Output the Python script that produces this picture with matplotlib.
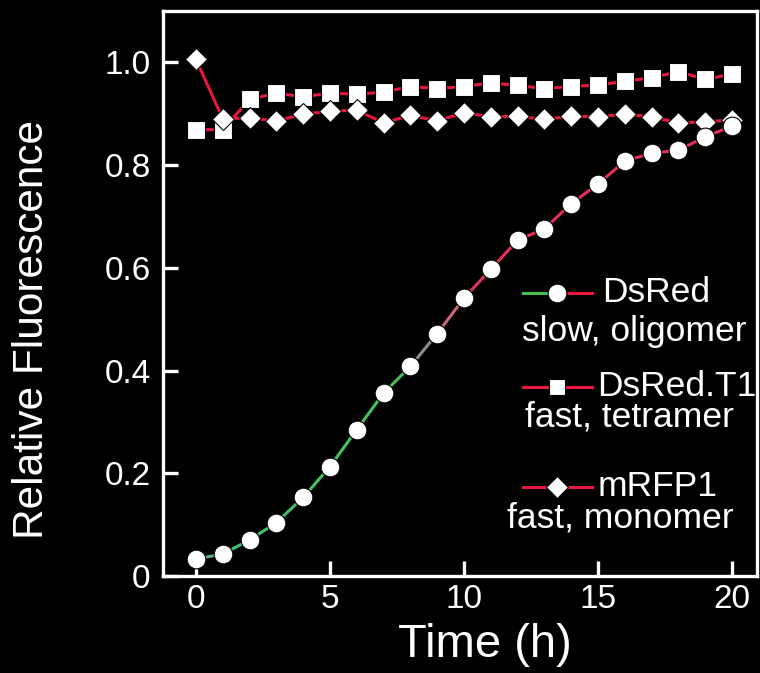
import numpy as np
import matplotlib
matplotlib.use("Agg")
import matplotlib.pyplot as plt
from matplotlib.collections import LineCollection
from matplotlib.colors import LinearSegmentedColormap
from matplotlib.lines import Line2D

# ---- data -------------------------------------------------------------
hours = list(range(21))
dsred = [0.033, 0.043, 0.070, 0.104, 0.153, 0.213, 0.285, 0.356, 0.408, 0.472,
         0.541, 0.597, 0.654, 0.676, 0.725, 0.763, 0.808, 0.823, 0.829, 0.855, 0.876]
dsred_t1 = [0.869, 0.869, 0.928, 0.940, 0.933, 0.940, 0.938, 0.942, 0.953, 0.949,
            0.953, 0.960, 0.955, 0.949, 0.953, 0.956, 0.963, 0.970, 0.982, 0.967, 0.977]
mrfp1 = [1.006, 0.890, 0.892, 0.886, 0.899, 0.905, 0.907, 0.882, 0.897, 0.886,
         0.902, 0.894, 0.895, 0.889, 0.895, 0.894, 0.899, 0.894, 0.882, 0.884, 0.888]

legend_names = ["DsRed", "DsRed.T1", "mRFP1"]
legend_notes = ["slow, oligomer", "fast, tetramer", "fast, monomer"]
x_ticks = [0, 5, 10, 15, 20]
y_ticks = [0.0, 0.2, 0.4, 0.6, 0.8, 1.0]
y_ticklabels = ["0", "0.2", "0.4", "0.6", "0.8", "1.0"]

# ---- style ------------------------------------------------------------
plt.rcParams["font.family"] = ["Liberation Sans", "DejaVu Sans"]
WHITE = "white"
RED = "#e8183c"
LW = 2.2
maturation = LinearSegmentedColormap.from_list(
    "maturation",
    [(0.00, "#8a9a90"), (0.04, "#3fbf78"), (0.37, "#46c055"), (0.42, "#8c8c8c"),
     (0.47, "#c86a7a"), (0.53, "#e23058"), (1.00, "#e23058")])

fig = plt.figure(figsize=(7.6, 6.73), dpi=100, facecolor="black")
ax = fig.add_axes([163 / 760, 1 - 576 / 673, 594 / 760, 565 / 673])
ax.set_facecolor("black")
ax.set_xlim(-1.23, 20.93)
ax.set_ylim(0, 1.10)

# DsRed.T1 (squares) and mRFP1 (diamonds)
ax.plot(hours, dsred_t1, color=RED, lw=LW, marker="s", ms=13, mfc=WHITE,
        mec="black", mew=0.8, zorder=3)
ax.plot(hours, mrfp1, color=RED, lw=LW, marker="D", ms=11.5, mfc=WHITE,
        mec="black", mew=0.8, zorder=4)

# DsRed: line coloured by maturation from green to red
pts = np.column_stack([hours, dsred])
segs = np.stack([pts[:-1], pts[1:]], axis=1)
mids = (np.array(hours[:-1]) + np.array(hours[1:])) / 2 / max(hours)
ax.add_collection(LineCollection(segs, colors=maturation(mids), linewidths=LW, zorder=5))
ax.plot(hours, dsred, ls="none", marker="o", ms=13.5, mfc=WHITE, mec="black",
        mew=0.8, zorder=6)

# axes
for side in ["left", "bottom", "top", "right"]:
    ax.spines[side].set_color(WHITE)
    ax.spines[side].set_linewidth(2.4)
ax.set_xticks(x_ticks)
ax.set_yticks(y_ticks)
ax.set_yticklabels(y_ticklabels)
ax.tick_params(direction="in", length=11, width=2.4, colors=WHITE, labelsize=24)
ax.tick_params(axis="x", pad=6)
ax.tick_params(axis="y", pad=9)
ax.set_xlabel("Time (h)", color=WHITE, fontsize=34, va="center")
ax.xaxis.set_label_coords(0.542, -0.122)
ax.set_ylabel("Relative Fluorescence", color=WHITE, fontsize=30.5, va="center")
ax.yaxis.set_label_coords(-0.2205, 0.437)

# legend drawn by hand: handle + name on one line, description below
tA = ax.transAxes
def ax_x(px):
    return (px - 163) / 594
def ax_y(py):
    return (576 - py) / 565

handle_rows = [293, 387, 487]
note_rows = [332, 417, 518]
name_left = [602, 597, 598]
note_left = [522, 525, 507]
handle_markers = ["o", "s", "D"]
handle_sizes = [13.5, 12, 11.5]
for i, name in enumerate(legend_names):
    y = ax_y(handle_rows[i])
    left_col = "#46c055" if i == 0 else RED
    ax.add_line(Line2D([ax_x(523), ax_x(557)], [y, y], color=left_col, lw=LW,
                       transform=tA, clip_on=False, zorder=7))
    ax.add_line(Line2D([ax_x(557), ax_x(592)], [y, y], color=RED, lw=LW,
                       transform=tA, clip_on=False, zorder=7))
    ax.add_line(Line2D([ax_x(557)], [y], ls="none", marker=handle_markers[i],
                       ms=handle_sizes[i], mfc=WHITE, mec="black", mew=0.8,
                       transform=tA, clip_on=False, zorder=8))
    ax.text(ax_x(name_left[i]), y, name, transform=tA, color=WHITE,
            fontsize=25.5, ha="left", va="center", zorder=9)
    ax.text(ax_x(note_left[i]), ax_y(note_rows[i]), legend_notes[i], transform=tA,
            color=WHITE, fontsize=25.5, ha="left", va="center", zorder=9)

fig.savefig("out.png", dpi=100, facecolor="black")
